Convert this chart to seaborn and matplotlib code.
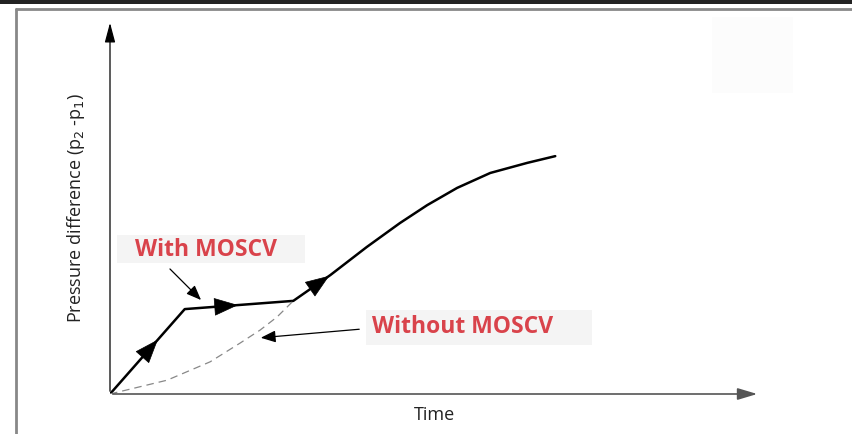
import numpy as np
import pandas as pd
import matplotlib
matplotlib.use('Agg')
import matplotlib.pyplot as plt
import matplotlib.patches as mpatches
import seaborn as sns

# solid path (with MOSCV) and dashed path (without MOSCV), arbitrary units
with_t = [0.0, 1.15, 2.82, 3.39, 3.95, 4.46, 4.88, 5.34, 5.85, 6.42, 6.85]
with_p = [0.0, 2.27, 2.49, 3.18, 3.93, 4.57, 5.05, 5.51, 5.91, 6.18, 6.36]
without_t = [0.0, 0.88, 1.54, 2.0, 2.31, 2.57, 2.82]
without_p = [0.0, 0.37, 0.86, 1.36, 1.71, 2.06, 2.49]

# direction arrows on the solid path: (segment index, fraction along segment)
arrow_pos = [(0, 0.64), (1, 0.49), (2, 0.97)]

label_with = 'With MOSCV'
label_without = 'Without MOSCV'
red = '#d9434b'

df_with = pd.DataFrame({'t': with_t, 'p': with_p})
df_without = pd.DataFrame({'t': without_t, 'p': without_p})

sns.set_theme(style='white')
plt.rcParams['font.family'] = ['Open Sans', 'DejaVu Sans']

fig = plt.figure(figsize=(8.52, 4.34), dpi=100)
W, H = 852, 434
ax = fig.add_axes([110 / W, 40 / H, 650 / W, 374 / H])
ax.set_xlim(0, 10)
ax.set_ylim(0, 10)

sns.lineplot(data=df_with, x='t', y='p', ax=ax, color='black', lw=1.8,
             sort=False, estimator=None)
sns.lineplot(data=df_without, x='t', y='p', ax=ax, color='#888888', lw=0.9,
             ls=(0, (6, 4)), sort=False, estimator=None)

# direction arrowheads
for i, f in arrow_pos:
    x0, y0 = with_t[i], with_p[i]
    x1, y1 = with_t[i + 1], with_p[i + 1]
    tx, ty = x0 + f * (x1 - x0), y0 + f * (y1 - y0)
    dx, dy = (x1 - x0) * 0.02, (y1 - y0) * 0.02
    ax.annotate('', xy=(tx, ty), xytext=(tx - dx, ty - dy),
                arrowprops=dict(arrowstyle='-|>,head_length=0.8,head_width=0.3',
                                color='black', lw=0.5, mutation_scale=20))

# axis arrows
ax.annotate('', xy=(0, 1), xytext=(0, 0), xycoords='axes fraction',
            arrowprops=dict(arrowstyle='-|>,head_length=0.6,head_width=0.16',
                            color='black', lw=0.9, mutation_scale=20))
ax.annotate('', xy=(1, 0), xytext=(0, 0), xycoords='axes fraction',
            arrowprops=dict(arrowstyle='-|>,head_length=0.6,head_width=0.18',
                            color='#555555', lw=1.2, mutation_scale=20))

sns.despine(ax=ax, left=True, bottom=True)
ax.set_xticks([])
ax.set_yticks([])
ax.set_xlabel('Time', fontsize=13, color='#222222')
ax.xaxis.set_label_coords(325 / 650, -12 / 374)
ax.set_ylabel('Pressure difference (p$_2$ -p$_1$)', fontsize=13, color='#222222')
ax.yaxis.set_label_coords(-23 / 650, 186 / 374)

# label boxes
ax.add_patch(mpatches.Rectangle((117 / W, 1 - 263 / H), 188 / W, 28 / H,
                                transform=fig.transFigure, fc='#f4f4f4', ec='none'))
ax.add_patch(mpatches.Rectangle((366 / W, 1 - 345 / H), 226 / W, 35 / H,
                                transform=fig.transFigure, fc='#f4f4f4', ec='none'))
fig.text(135 / W, 1 - 250 / H, label_with, color=red, fontsize=16.5,
         fontweight='bold', va='center', ha='left')
fig.text(372 / W, 1 - 327 / H, label_without, color=red, fontsize=16.5,
         fontweight='bold', va='center', ha='left')

# pointer arrows from labels
ax.annotate('', xy=(203 / W, 1 - 302 / H), xytext=(168 / W, 1 - 267 / H),
            xycoords='figure fraction',
            arrowprops=dict(arrowstyle='-|>,head_length=0.5,head_width=0.2',
                            color='black', lw=0.9, mutation_scale=18))
ax.annotate('', xy=(258 / W, 1 - 338 / H), xytext=(362 / W, 1 - 329 / H),
            xycoords='figure fraction',
            arrowprops=dict(arrowstyle='-|>,head_length=0.5,head_width=0.2',
                            color='black', lw=0.9, mutation_scale=18))

# frame decorations
fig.patches.append(mpatches.Rectangle((0, 1 - 4 / H), 1, 4 / H,
                                      transform=fig.transFigure, fc='#222222', ec='none'))
fig.lines.append(plt.Line2D([16 / W, 1], [1 - 9 / H, 1 - 9 / H],
                            transform=fig.transFigure, color='#888888', lw=2))
fig.lines.append(plt.Line2D([16 / W, 16 / W], [0, 1 - 9 / H],
                            transform=fig.transFigure, color='#888888', lw=2))
fig.patches.append(mpatches.Rectangle((712 / W, 1 - 93 / H), 81 / W, 76 / H,
                                      transform=fig.transFigure, fc='#fcfcfc', ec='none'))

plt.savefig('out.png', dpi=100)
